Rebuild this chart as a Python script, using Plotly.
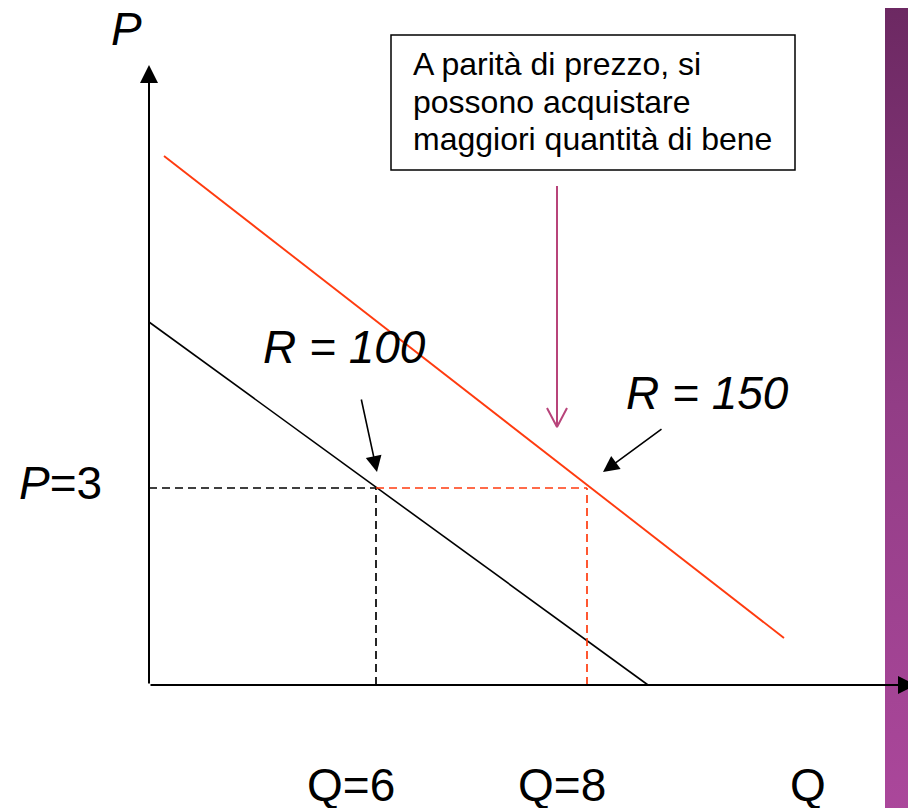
import plotly.graph_objects as go

# ---- data (schematic units; origin of the axes at 0,0) ----
demand_r100_q = [0, 499]
demand_r100_p = [363, 0]
demand_r150_q = [15, 635]
demand_r150_p = [529, 47]
price_level = 197          # P = 3
q_at_r100 = 227            # Q = 6
q_at_r150 = 438            # Q = 8
axis_q_max = 767
axis_p_max = 620

price_label = "<i>P</i>=3"
q_labels = ["Q=6", "Q=8"]
income_labels = ["R = 100", "R = 150"]
note_lines = ["A parità di prezzo, si", "possono acquistare", "maggiori quantità di bene"]

FONT = "Arial, Liberation Sans, sans-serif"
RED = "#ff3b0f"
MAG = "#b8447a"

fig = go.Figure()

# purple side band
fig.add_trace(go.Scatter(
    x=[736, 770, 770, 736, 736], y=[-130, -130, 690, 690, -130],
    mode="lines", line=dict(width=0), fill="toself",
    fillgradient=dict(type="vertical",
                      colorscale=[[0, "#ab479b"], [0.5, "#923d86"], [1, "#6b2861"]]),
    hoverinfo="skip", showlegend=False))

# demand curves
fig.add_trace(go.Scatter(x=demand_r100_q, y=demand_r100_p, mode="lines",
                         line=dict(color="black", width=1.6), showlegend=False))
fig.add_trace(go.Scatter(x=demand_r150_q, y=demand_r150_p, mode="lines",
                         line=dict(color=RED, width=1.9), showlegend=False))

# dashed guides
DASH = "8px,5px"
fig.add_trace(go.Scatter(x=[0, q_at_r100], y=[price_level, price_level], mode="lines",
                         line=dict(color="black", width=1.7, dash=DASH), showlegend=False))
fig.add_trace(go.Scatter(x=[q_at_r100, q_at_r100], y=[0, price_level], mode="lines",
                         line=dict(color="black", width=1.7, dash=DASH), showlegend=False))
fig.add_trace(go.Scatter(x=[q_at_r100, q_at_r150], y=[price_level, price_level], mode="lines",
                         line=dict(color=RED, width=1.7, dash=DASH), showlegend=False))
fig.add_trace(go.Scatter(x=[q_at_r150, q_at_r150], y=[0, price_level], mode="lines",
                         line=dict(color=RED, width=1.7, dash=DASH), showlegend=False))

# magenta open arrow
fig.add_trace(go.Scatter(x=[408, 408, None, 398, 408, 418], y=[499, 258, None, 277, 258, 277],
                         mode="lines", line=dict(color=MAG, width=2), showlegend=False))

# note box
fig.add_shape(type="rect", x0=242, x1=646, y0=515, y1=650,
              line=dict(color="black", width=1.5), fillcolor="white", layer="below")

ann = []
# axes with arrows
ann.append(dict(x=0, y=axis_p_max, ax=0, ay=0, xref="x", yref="y", axref="x", ayref="y",
                showarrow=True, arrowhead=2, arrowsize=1.8, arrowwidth=2, arrowcolor="black",
                text="", standoff=0))
ann.append(dict(x=axis_q_max, y=0, ax=0, ay=0, xref="x", yref="y", axref="x", ayref="y",
                showarrow=True, arrowhead=2, arrowsize=1.8, arrowwidth=2, arrowcolor="black",
                text="", standoff=0))
# pointer arrows
ann.append(dict(x=q_at_r100 + 1, y=price_level + 16, ax=212, ay=287, xref="x", yref="y",
                axref="x", ayref="y", showarrow=True, arrowhead=2, arrowsize=2,
                arrowwidth=1.6, arrowcolor="black", text="", standoff=0))
ann.append(dict(x=q_at_r150 + 16, y=price_level + 16, ax=514, ay=257, xref="x", yref="y",
                axref="x", ayref="y", showarrow=True, arrowhead=2, arrowsize=2,
                arrowwidth=1.6, arrowcolor="black", text="", standoff=0))

def label(x, y, text, size=46, italic=False, xanchor="center"):
    t = f"<i>{text}</i>" if italic else text
    ann.append(dict(x=x, y=y, xref="x", yref="y", text=t, showarrow=False,
                    xanchor=xanchor, yanchor="middle",
                    font=dict(family=FONT, size=size, color="black")))

label(-23, 656, "P", italic=True)
label(-89, 202, price_label)
label(195, 338, income_labels[0], italic=True)
label(558, 292, income_labels[1], italic=True)
label(202, -100, q_labels[0])
label(413, -100, q_labels[1])
label(659, -100, "Q")

for i, line in enumerate(note_lines):
    label(262, 621 - i * 37.5, line, size=32, xanchor="left")

fig.update_layout(
    width=908, height=800,
    margin=dict(l=0, r=0, t=0, b=0),
    paper_bgcolor="white", plot_bgcolor="white",
    xaxis=dict(range=[-141, 767], visible=False, fixedrange=True),
    yaxis=dict(range=[-123, 677], visible=False, fixedrange=True),
    annotations=ann,
    showlegend=False,
)

fig.write_html("out.html")
